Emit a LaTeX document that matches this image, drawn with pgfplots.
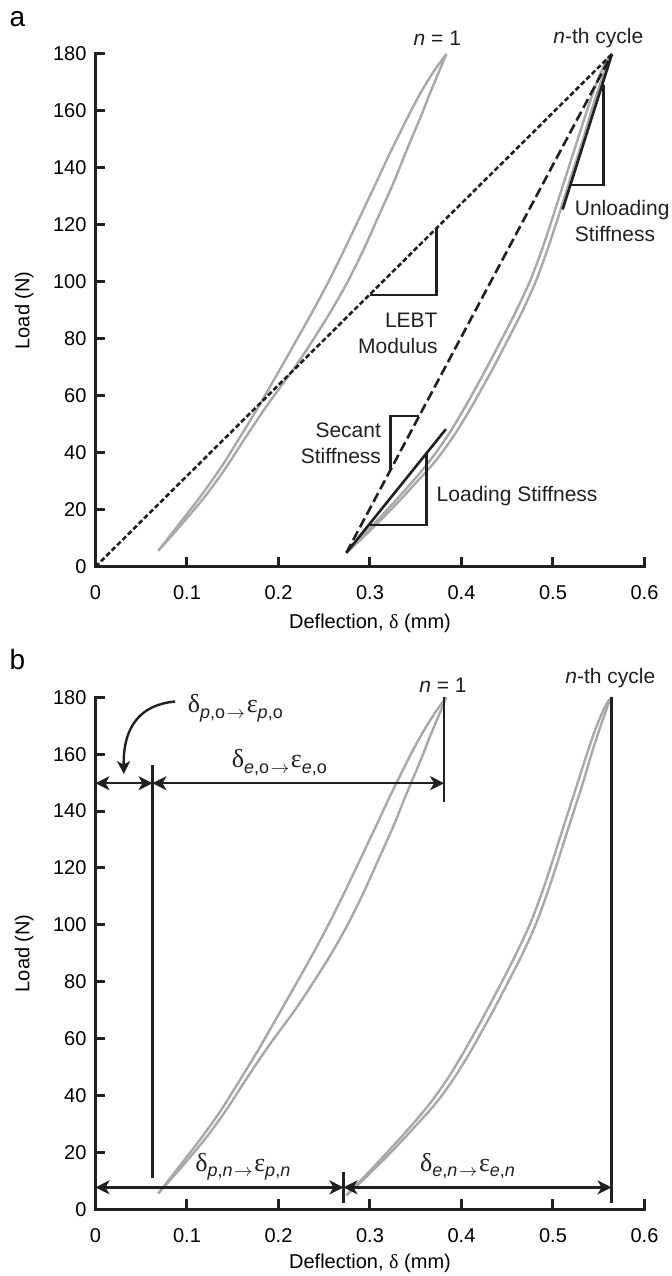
\documentclass[border=0pt]{standalone}
\usepackage{fontspec}
\setmainfont{Liberation Sans}
\newfontfamily\grk{Liberation Serif}
\usepackage{pgfplots}
\pgfplotsset{compat=1.18}
\usepackage{pgfplotstable}
\usetikzlibrary{arrows.meta}

\definecolor{curvegray}{RGB}{168,168,168}
\definecolor{ink}{RGB}{35,31,32}

% n = 1 loop, left branch
\pgfplotstableread{
x y
0.0686 5.6
0.0915 15
0.1155 25
0.1375 35
0.1570 45
0.1760 55
0.1886 62
0.2029 70
0.2205 80
0.2379 90
0.2545 100
0.2715 111
0.2893 123
0.3070 135
0.3215 145
0.3415 158
0.3530 165
0.3620 170
0.3720 175
0.3835 180
}\Lone
% n = 1 loop, right branch
\pgfplotstableread{
x y
0.0686 5.6
0.0945 15
0.1205 25
0.1430 35
0.1632 45
0.1840 55
0.1996 62
0.2179 70
0.2385 80
0.2579 90
0.2755 100
0.2925 111
0.3093 123
0.3260 135
0.3385 145
0.3555 158
0.3640 165
0.3705 170
0.3770 175
0.3835 180
}\Rone
% n-th loop, left branch
\pgfplotstableread{
x y
0.2742 4.9
0.2895 10
0.3043 15
0.3188 20
0.3330 25
0.3468 30
0.3600 35
0.3720 40
0.3870 47
0.4020 55
0.4160 63
0.4278 70
0.4442 80
0.4600 90
0.4745 100
0.4865 110
0.4970 120
0.5070 130
0.5170 140
0.5270 150
0.5370 160
0.5455 168
0.5530 174
0.5590 178
0.5645 180
}\Ln
% n-th loop, right branch
\pgfplotstableread{
x y
0.2742 4.9
0.2915 10
0.3073 15
0.3228 20
0.3375 25
0.3518 30
0.3660 35
0.3785 40
0.3937 47
0.4090 55
0.4230 63
0.4350 70
0.4512 80
0.4670 90
0.4810 100
0.4925 110
0.5030 120
0.5128 130
0.5228 140
0.5328 150
0.5420 160
0.5500 168
0.5565 174
0.5610 178
0.5645 180
}\Rn

\newcommand{\gk}[1]{{\grk\fontsize{13}{13}\selectfont #1}}
\newcommand{\sub}[1]{\raisebox{-2.8pt}{\fontsize{9}{9}\selectfont #1}}
\newcommand{\dl}[4]{\gk{δ}\sub{#1,#2\hspace{0.8pt}$\rightarrow$}\hspace{0.8pt}\gk{ε}\sub{#3,#4}}

\pgfplotsset{
  myax/.style={
    scale only axis, width=274.5pt,
    xmin=0, xmax=0.6, ymin=0, ymax=180,
    axis x line*=bottom, axis y line*=left,
    axis line style={line width=1.5pt, line cap=rect, ink},
    xtick={0,0.1,0.2,0.3,0.4,0.5,0.6},
    ytick={0,20,40,60,80,100,120,140,160,180},
    xticklabels={0,0.1,0.2,0.3,0.4,0.5,0.6},
    tick style={line width=1.5pt, ink},
    major tick length=5pt, tick align=inside,
    ticklabel style={font=\fontsize{10}{10}\selectfont},
    xticklabel style={yshift=-6pt},
    yticklabel style={xshift=-1pt},
    /pgf/number format/assume math mode=true,
    label style={font=\fontsize{10}{12}\selectfont},
    xlabel={Deflection, {\grk δ} (mm)},
    ylabel={Load (N)},
    ylabel style={at={(axis description cs:-0.13,0.5)}, anchor=center},
    clip=false,
  },
  gc/.style={color=curvegray, line width=1.2pt, smooth, tension=0.5, no markers},
}
\tikzset{
  blk/.style={ink, line width=1.3pt},
  ann/.style={font=\fontsize{10.5}{13}\selectfont, inner sep=0pt, text=ink},
  dimarr/.style={ink, line width=1.2pt, {Stealth[length=7pt,width=7pt,inset=2pt]}-{Stealth[length=7pt,width=7pt,inset=2pt]}},
}

\begin{document}
\begin{tikzpicture}[x=1pt,y=1pt]
\path[use as bounding box] (0,0) rectangle (336,638);
\node[font=\fontsize{14}{14}\selectfont, inner sep=0pt] at (8.75,628.4) {a};
\node[font=\fontsize{14}{14}\selectfont, inner sep=0pt] at (8.75,308.4) {b};

% ---------- panel a ----------
\begin{axis}[myax, at={(47.75pt,354.65pt)}, anchor=south west, height=256.35pt,
  xlabel style={at={(axis description cs:0.5,-0.1105)}, anchor=center}]
\addplot[gc] table {\Lone};
\addplot[gc] table {\Rone};
\addplot[gc] table {\Ln};
\addplot[gc] table {\Rn};
% LEBT modulus (dotted)
\addplot[ink, line width=1.3pt, dash pattern=on 2.5pt off 1.3pt] coordinates {(0,0) (0.5645,180)};
% secant (dashed)
\addplot[ink, line width=1.3pt, dash pattern=on 5pt off 2.2pt] coordinates {(0.2742,4.9) (0.5645,180)};
% loading stiffness
\addplot[blk] coordinates {(0.2742,4.9) (0.3830,48.3)};
% unloading stiffness
\addplot[blk] coordinates {(0.5105,125.4) (0.5645,180)};
% triangles
\draw[blk] (axis cs:0.2997,95.4) -- (axis cs:0.3725,95.4) -- (axis cs:0.3725,118.6);
\draw[blk] (axis cs:0.3226,34) -- (axis cs:0.3226,52.9) -- (axis cs:0.3535,52.9);
\draw[blk] (axis cs:0.299,14.6) -- (axis cs:0.3615,14.6) -- (axis cs:0.3615,39.6);
\draw[blk] (axis cs:0.5195,134) -- (axis cs:0.555,134) -- (axis cs:0.555,169);
% labels
\node[ann, anchor=east, align=right] at (axis cs:0.3743,81.8) {LEBT\\Modulus};
\node[ann, anchor=east, align=right] at (axis cs:0.3124,43.4) {Secant\\Stiffness};
\node[ann, anchor=west] at (axis cs:0.3725,24.9) {Loading Stiffness};
\node[ann, anchor=west, align=left] at (axis cs:0.5235,121.2) {Unloading\\Stiffness};
\node[ann] at (axis cs:0.3736,185.5) {\textit{n} = 1};
\node[ann] at (axis cs:0.5495,185.5) {\textit{n}-th cycle};
\end{axis}

% ---------- panel b ----------
\begin{axis}[myax, at={(47.75pt,33.35pt)}, anchor=south west, height=256pt,
  xlabel style={at={(axis description cs:0.5,-0.1055)}, anchor=center}]
\addplot[gc] table {\Lone};
\addplot[gc] table {\Rone};
\addplot[gc] table {\Ln};
\addplot[gc] table {\Rn};
% vertical reference lines
\addplot[blk, line width=1.2pt] coordinates {(0.0623,10.9) (0.0623,156.2)};
\addplot[blk, line width=1.2pt] coordinates {(0.381,143.3) (0.381,180)};
\addplot[blk, line width=1.2pt] coordinates {(0.564,2.1) (0.564,180)};
\addplot[blk, line width=1.2pt] coordinates {(0.271,2.1) (0.271,13.2)};
% dimension arrows
\draw[dimarr] (axis cs:0,149.8) -- (axis cs:0.0623,149.8);
\draw[dimarr] (axis cs:0.0623,149.8) -- (axis cs:0.381,149.8);
\draw[dimarr] (axis cs:0,7.7) -- (axis cs:0.271,7.7);
\draw[dimarr] (axis cs:0.271,7.7) -- (axis cs:0.564,7.7);
\draw[ink, line width=1.2pt, -{Stealth[length=6.5pt,width=6.5pt,inset=1.8pt]}]
  (axis cs:0.087,178.5) .. controls (axis cs:0.050,177.5) and (axis cs:0.030,170) .. (axis cs:0.031,153);
% labels
\node[ann, anchor=base west] at (axis cs:0.1005,174.6) {\dl{\textit{p}}{o}{\textit{p}}{o}};
\node[ann, anchor=base] at (axis cs:0.201,155.3) {\dl{\textit{e}}{o}{\textit{e}}{o}};
\node[ann, anchor=base] at (axis cs:0.161,13.4) {\dl{\textit{p}}{\textit{n}}{\textit{p}}{\textit{n}}};
\node[ann, anchor=base] at (axis cs:0.4066,13.4) {\dl{\textit{e}}{\textit{n}}{\textit{e}}{\textit{n}}};
\node[ann] at (axis cs:0.3797,184.1) {\textit{n} = 1};
\node[ann] at (axis cs:0.5627,186.7) {\textit{n}-th cycle};
\end{axis}
\end{tikzpicture}
\end{document}
